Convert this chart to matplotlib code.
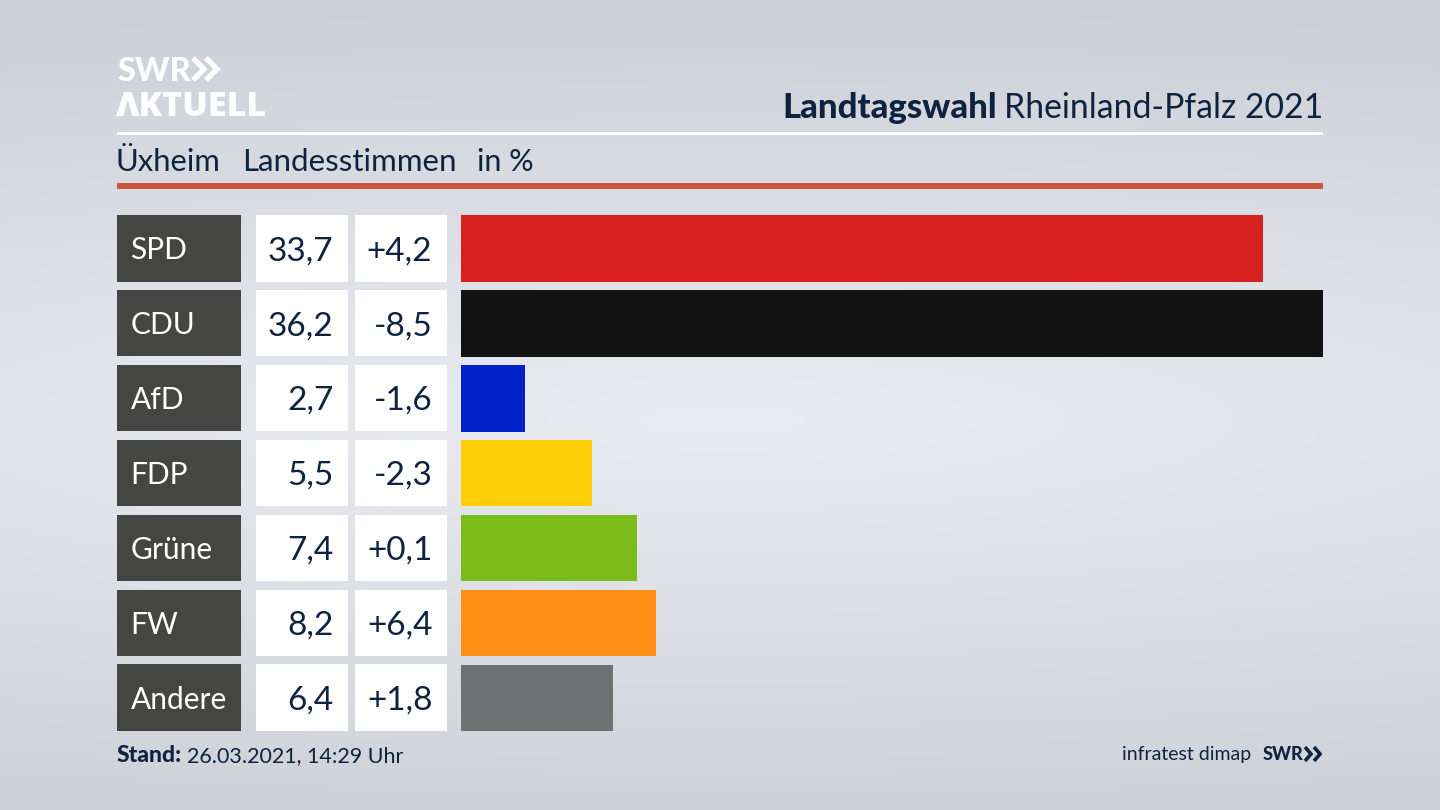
import numpy as np
import matplotlib
matplotlib.use("Agg")
from matplotlib import pyplot as plt
from matplotlib.patches import Rectangle

parties = ["SPD", "CDU", "AfD", "FDP", "Grüne", "FW", "Andere"]
shares = [33.7, 36.2, 2.7, 5.5, 7.4, 8.2, 6.4]
changes = ["+4,2", "-8,5", "-1,6", "-2,3", "+0,1", "+6,4", "+1,8"]
colors = ["#d8201f", "#121212", "#0321c8", "#ffce08", "#7abd1a", "#ff8f14", "#6f7072"]

navy = "#0f2340"
plt.rcParams["font.family"] = ["Lato", "DejaVu Sans"]

fig = plt.figure(figsize=(14.4, 8.1), dpi=100)

# hintergrund, koordinaten in pixel
bg = fig.add_axes([0, 0, 1, 1])
bg.set_xlim(0, 1440)
bg.set_ylim(810, 0)
bg.axis("off")

yy, xx = np.mgrid[0:810, 0:1440]
d = np.sqrt(((yy - 420) / 420) ** 2 + (0.3 * (xx - 720) / 720) ** 2)
d = np.clip(d, 0, 1)[..., None]
center = np.array([234, 236, 241]) / 255
edge = np.array([204, 208, 215]) / 255
bg.imshow(center + (edge - center) * d, extent=(0, 1440, 810, 0), aspect="auto", zorder=0)

# logo
bg.text(117, 81, "SWR", color="white", fontsize=23.5, fontweight="black", va="baseline", ha="left")
bg.text(116, 116, "ΛKTUELL", color="white", fontsize=24.5, fontweight="black", va="baseline", ha="left", family=["Open Sans", "Noto Sans"])
for x0 in (193, 206):
    bg.plot([x0, x0 + 11, x0], [58, 69, 80], color="white", lw=3.8, solid_joinstyle="miter", solid_capstyle="butt")

# kopf
bg.text(1323, 118, "Rheinland-Pfalz 2021", color=navy, fontsize=24.3, ha="right", va="baseline")
bg.text(997, 118, "Landtagswahl", color=navy, fontsize=25, fontweight="black", ha="right", va="baseline")
bg.add_patch(Rectangle((117, 132), 1206, 3, color="white", lw=0, zorder=2))
bg.text(116, 171, "Üxheim", color=navy, fontsize=22.3, va="baseline")
bg.text(242, 171, "Landesstimmen", color=navy, fontsize=22.5, va="baseline")
bg.text(477, 171, "in %", color=navy, fontsize=22, va="baseline")
bg.add_patch(Rectangle((117, 183), 1206, 6, color="#cc543b", lw=0, zorder=2))

# zeilen
for i, p in enumerate(parties):
    top = 215 + i * 74.9
    mid = top + 33.2
    bg.add_patch(Rectangle((117, top), 124, 66.5, color="#454543", lw=0, zorder=2))
    bg.add_patch(Rectangle((256, top), 92, 66.5, color="white", lw=0, zorder=2))
    bg.add_patch(Rectangle((355, top), 92, 66.5, color="white", lw=0, zorder=2))
    bg.text(130.5, mid + 11, p, color="white", fontsize=21.5, va="baseline", zorder=3)
    bg.text(333.5, mid + 12, f"{shares[i]:.1f}".replace(".", ","), color=navy, fontsize=24, ha="right", va="baseline", zorder=3)
    bg.text(432.5, mid + 12, changes[i], color=navy, fontsize=24, ha="right", va="baseline", zorder=3)

# balken
ax = fig.add_axes([461 / 1440, 1 - 731.4 / 810, 862 / 1440, 516.4 / 810])
ax.patch.set_alpha(0)
ax.barh(range(len(parties)), shares, height=0.888, color=colors)
ax.set_xlim(0, max(shares))
ax.set_ylim(6.444, -0.444)
ax.axis("off")

# fuss
bg.text(117, 762, "Stand:", color=navy, fontsize=16.5, fontweight="black", va="baseline")
bg.text(187, 762, "26.03.2021, 14:29 Uhr", color=navy, fontsize=15.5, va="baseline")
bg.text(1251, 760, "infratest dimap", color=navy, fontsize=14, ha="right", va="baseline")
bg.text(1263, 760, "SWR", color=navy, fontsize=13, fontweight="black", va="baseline")
for x0 in (1305, 1314):
    bg.plot([x0, x0 + 6, x0], [747, 754, 761], color=navy, lw=2.6, solid_joinstyle="miter", solid_capstyle="butt")

fig.savefig("out.png", dpi=100)
